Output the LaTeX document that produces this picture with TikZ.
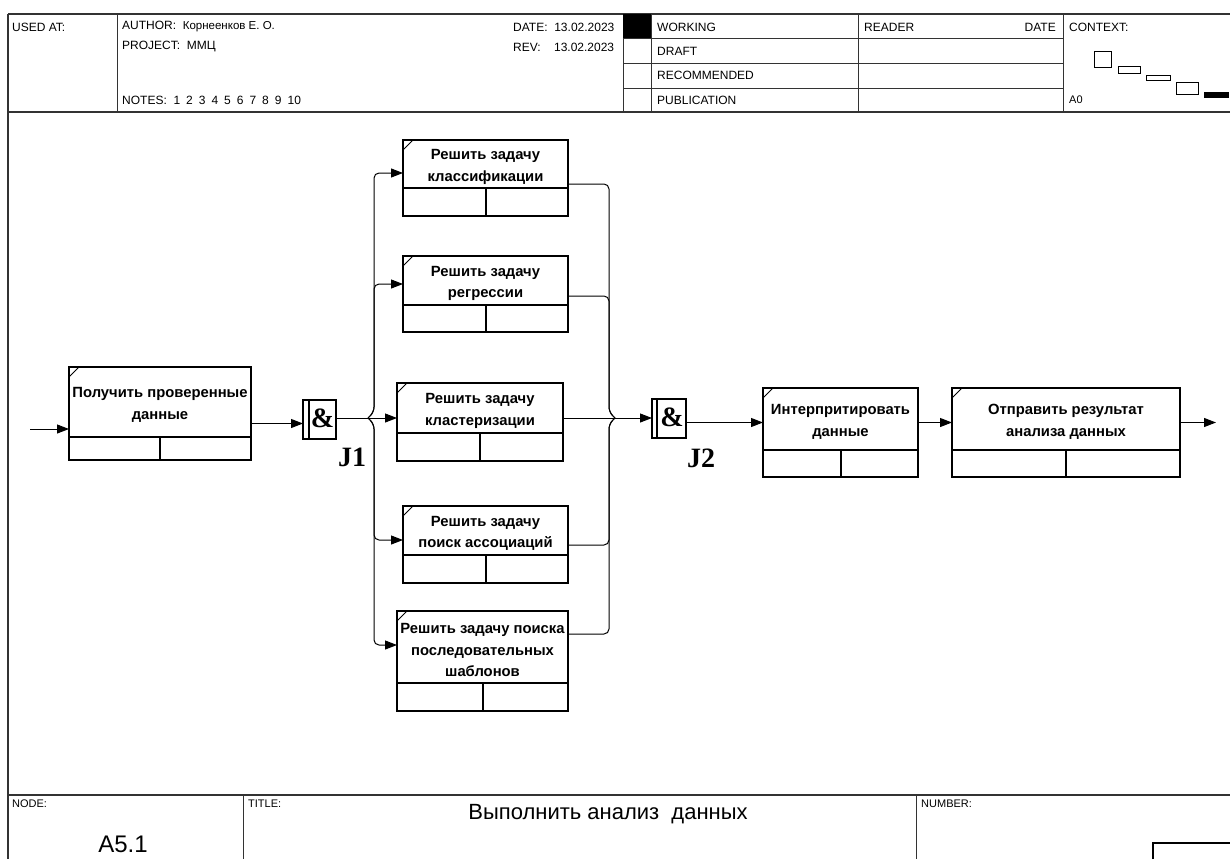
\documentclass[tikz,border=0pt]{standalone}
\usepackage{fontspec}
\setmainfont{Liberation Sans}
\newfontfamily\serifb{Liberation Serif}
\usetikzlibrary{arrows.meta,calc}
\tikzset{
  frame/.style={line width=1.6pt, black!80},
  thinframe/.style={line width=0.9pt, black!80},
  ibox/.style={draw, line width=2pt, rectangle, inner sep=0, outer sep=0},
  boxline/.style={line width=2pt},
  itext/.style={font=\bfseries\fontsize{14.8}{21.5}\selectfont, align=center, inner sep=0},
  conn/.style={line width=1pt, -{Triangle[length=12pt,width=9pt]}},
  plain/.style={line width=1pt},
  jbox/.style={draw, line width=2pt, rectangle, inner sep=0, outer sep=0},
  amp/.style={font=\serifb\bfseries\fontsize{28}{28}\selectfont, inner sep=0},
  jlabel/.style={font=\serifb\bfseries\fontsize{28}{28}\selectfont, inner sep=0},
  hdr/.style={font=\fontsize{12}{14}\selectfont, inner sep=0, anchor=west},
  hdrs/.style={font=\fontsize{11}{13}\selectfont, inner sep=0, anchor=west},
}
\newcommand\idefbox[8]{%
  \node[ibox, minimum width=#4pt, minimum height=#5pt] (#1) at (#2,#3) {};
  \draw[boxline] ([yshift=#6pt]#1.south west) -- ([yshift=#6pt]#1.south east);
  \draw[boxline] ([xshift=#7pt]#1.south west) -- ([xshift=#7pt,yshift=#6pt]#1.south west);
  \draw[line width=1pt] ([yshift=-10pt]#1.north west) -- ([xshift=10pt]#1.north west);
  \node[itext] (#1t) at ($(#1.north)+(0,{(#5-#6)/2+3})$) {#8};
}
\newcommand\notegap{\hspace{6pt}}
\begin{document}
\begin{tikzpicture}[x=1pt,y=-1pt]
\useasboundingbox (0,0) rectangle (1230,859);
% ---------- header frame ----------
\draw[frame] (8,14) -- (1230,14);
\draw[frame] (8,112) -- (1230,112);
\draw[line width=2.4pt, black!80] (8,14) -- (8,859);
\foreach \x in {117,623,651,858,1063} \draw[thinframe] (\x,14) -- (\x,112);
\foreach \y in {38,63,88} \draw[thinframe] (623,\y) -- (1063,\y);
\fill (623,14) rectangle (651,38);
\node[hdr] (usedat) at (12,27) {USED AT:};
\node[hdr] (author) at (122,27) {AUTHOR:\ \ {\fontsize{11.5}{13}\selectfont Корнеенков Е. О.}};
\node[hdr] (project) at (122,47) {PROJECT:\ \ ММЦ};
\node[hdr] (notes) at (122,100) {NOTES:\ \ 1\notegap 2\notegap 3\notegap 4\notegap 5\notegap 6\notegap 7\notegap 8\notegap 9\notegap 10};
\node[hdr] (date) at (513,27) {DATE:\ \ 13.02.2023};
\node[hdr] (rev) at (513,47) {REV:\ \ \ \ 13.02.2023};
\node[hdr] (working) at (657,27) {WORKING};
\node[hdr] (draft) at (657,51) {DRAFT};
\node[hdr] (recom) at (657,75) {RECOMMENDED};
\node[hdr] (publ) at (657,100) {PUBLICATION};
\node[hdr] (reader) at (864,27) {READER};
\node[hdr, anchor=east] (rdate) at (1056,27) {DATE};
\node[hdr] (context) at (1069,27) {CONTEXT:};
\node[hdrs] (a0) at (1069,100) {A0};
\draw[line width=0.9pt] (1094,51) rectangle (1111,67);
\draw[line width=0.9pt] (1118,66) rectangle (1140,73);
\draw[line width=0.9pt] (1146,75) rectangle (1170,80);
\draw[line width=0.9pt] (1176,82) rectangle (1198,94);
\fill (1204,92) rectangle (1229,98);
% ---------- footer ----------
\draw[frame] (8,795) -- (1230,795);
\draw[thinframe] (243,795) -- (243,859);
\draw[thinframe] (916,795) -- (916,859);
\draw[line width=1.2pt] (1153,859) -- (1153,843) -- (1230,843);
\node[hdrs] (nodel) at (12,804) {NODE:};
\node[hdrs] (titlel) at (248,804) {TITLE:};
\node[hdrs] (numl) at (921,804) {NUMBER:};
\node[font=\fontsize{22}{24}\selectfont, inner sep=0] (title) at (608,814) {Выполнить анализ\ \ данных};
\node[font=\fontsize{24}{26}\selectfont, inner sep=0] (nodeid) at (123,844) {A5.1};
% ---------- boxes ----------
\idefbox{b1}{160}{413.5}{182}{93}{23}{91}{Получить проверенные\\данные}
\idefbox{b2}{485.5}{178}{165}{76}{28}{83}{Решить задачу\\классификации}
\idefbox{b3}{485.5}{294}{165}{76}{27}{83}{Решить задачу\\регрессии}
\idefbox{b4}{480}{422}{166}{78}{28}{83}{Решить задачу\\кластеризации}
\idefbox{b5}{485.5}{544.5}{165}{77}{28}{83}{Решить задачу\\поиск ассоциаций}
\idefbox{b6}{482.5}{661}{171}{100}{28}{86}{Решить задачу поиска\\последовательных\\шаблонов}
\idefbox{b7}{840.5}{432.5}{155}{89}{27}{78}{Интерпритировать\\данные}
\idefbox{b8}{1066}{432.5}{228}{89}{27}{114}{Отправить результат\\анализа данных}
% ---------- junctions ----------
\node[jbox, minimum width=33pt, minimum height=39pt] (j1) at (319.5,419.5) {};
\draw[line width=1.4pt] ([xshift=6pt]j1.north west) -- ([xshift=6pt]j1.south west);
\node[amp] (j1amp) at ([xshift=3pt,yshift=1pt]j1.center) {\&};
\node[jlabel] (j1l) at (352,457) {J1};
\node[jbox, minimum width=34pt, minimum height=39pt] (j2) at (669,418.5) {};
\draw[line width=1.4pt] ([xshift=5pt]j2.north west) -- ([xshift=5pt]j2.south west);
\node[amp] (j2amp) at ([xshift=3pt,yshift=1pt]j2.center) {\&};
\node[jlabel] (j2l) at (701,458) {J2};
% ---------- connectors ----------
\coordinate (src) at (30,429);
\coordinate (sink) at (1216,422.5);
\coordinate (jA) at (368,418);
\coordinate (jB) at (615,418);
\draw[conn] (src) -- ([yshift=-15.5pt]b1.west);
\draw[conn] ([yshift=-10pt]b1.east) -- ([yshift=-4pt]j1.west);
\draw[conn] ([yshift=1.5pt]j1.east) -- ([yshift=4pt]b4.west);
\draw[conn, rounded corners=5] (jA) -- ([xshift=6pt,yshift=6pt]jA) |- ([yshift=5pt]b2.west);
\draw[conn, rounded corners=5] (jA) -- ([xshift=6pt,yshift=6pt]jA) |- ([yshift=10pt]b3.west);
\draw[conn, rounded corners=5] (jA) -- ([xshift=6pt,yshift=-6pt]jA) |- ([yshift=4.5pt]b5.west);
\draw[conn, rounded corners=5] (jA) -- ([xshift=6pt,yshift=-6pt]jA) |- ([yshift=16pt]b6.west);
\draw[plain, rounded corners=5] ([yshift=-6pt]b2.east) -| ([xshift=-6pt,yshift=6pt]jB) -- (jB);
\draw[plain, rounded corners=5] ([yshift=-2pt]b3.east) -| ([xshift=-6pt,yshift=6pt]jB) -- (jB);
\draw[plain, rounded corners=5] ([yshift=-0.5pt]b5.east) -| ([xshift=-6pt,yshift=-6pt]jB) -- (jB);
\draw[plain, rounded corners=5] ([yshift=27pt]b6.east) -| ([xshift=-6pt,yshift=-6pt]jB) -- (jB);
\draw[conn] ([yshift=4pt]b4.east) -- ([yshift=0.5pt]j2.west);
\draw[conn] ([yshift=-4pt]j2.east) -- ([yshift=10pt]b7.west);
\draw[conn] ([yshift=10pt]b7.east) -- ([yshift=10pt]b8.west);
\draw[conn] ([yshift=10pt]b8.east) -- (sink);
\end{tikzpicture}
\end{document}
